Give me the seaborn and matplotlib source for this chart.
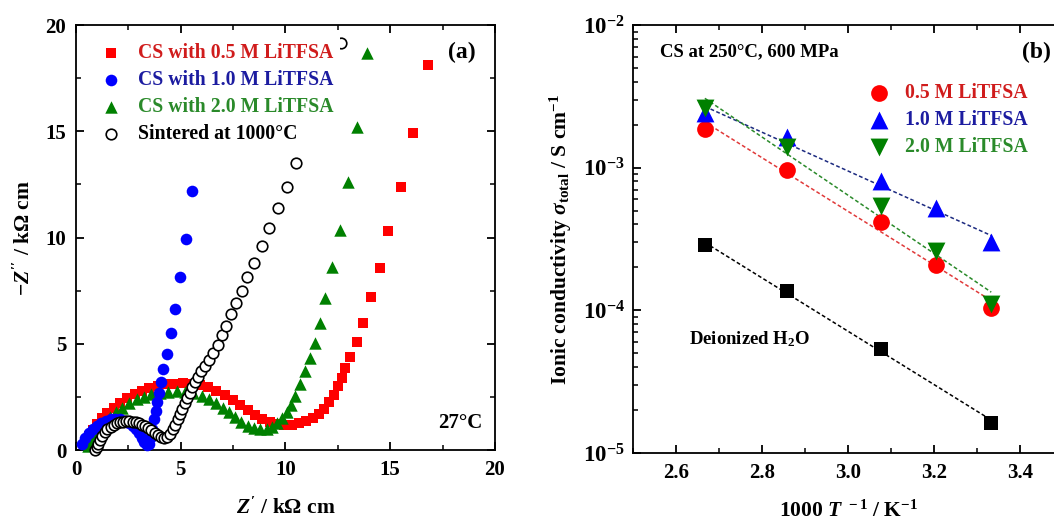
import numpy as np
import pandas as pd
import matplotlib
matplotlib.use("Agg")
import matplotlib.pyplot as plt
from matplotlib.ticker import MultipleLocator, LogLocator, NullFormatter
import seaborn as sns

# ---------------- Panel (a): Nyquist data (kOhm cm) ----------------
red_x = [0.45, 0.6, 0.8, 1.0, 1.25, 1.5, 1.8, 2.1, 2.45, 2.8, 3.15, 3.5, 3.9, 4.3, 4.7, 5.1,
         5.5, 5.9, 6.3, 6.7, 7.1, 7.5, 7.85, 8.2, 8.55, 8.9, 9.25, 9.6, 9.95, 10.3, 10.65,
         11.0, 11.3, 11.6, 11.85, 12.1, 12.3, 12.5, 12.7, 12.85, 13.1, 13.4, 13.7, 14.1,
         14.5, 14.9, 15.5, 16.1, 16.8]
red_y = [0.35, 0.65, 0.95, 1.21, 1.49, 1.74, 2.0, 2.22, 2.44, 2.62, 2.78, 2.9, 3.01, 3.09, 3.13, 3.15,
         3.12, 3.05, 2.95, 2.8, 2.6, 2.35, 2.1, 1.87, 1.65, 1.47, 1.33, 1.24, 1.2, 1.2, 1.25,
         1.35, 1.5, 1.7, 1.95, 2.25, 2.6, 3.0, 3.4, 3.85, 4.4, 5.1, 6.0, 7.2,
         8.55, 10.3, 12.4, 14.9, 18.1]

blue_x = [0.3, 0.45, 0.62, 0.8, 1.0, 1.2, 1.42, 1.65, 1.88, 2.1, 2.32, 2.52, 2.7, 2.87, 3.02,
          3.15, 3.27, 3.38, 3.48, 3.56, 3.63, 3.72, 3.8, 3.87, 3.95, 4.05, 4.17, 4.34, 4.53,
          4.73, 4.96, 5.25, 5.54]
blue_y = [0.3, 0.55, 0.78, 0.98, 1.15, 1.28, 1.38, 1.44, 1.46, 1.44, 1.38, 1.28, 1.15, 0.98, 0.78,
          0.56, 0.36, 0.22, 0.3, 0.6, 1.0, 1.45, 1.85, 2.25, 2.7, 3.2, 3.8, 4.5, 5.5,
          6.64, 8.14, 9.93, 12.2]

green_x = [0.55, 0.7, 0.9, 1.1, 1.35, 1.6, 1.9, 2.2, 2.55, 2.9, 3.25, 3.6, 4.0, 4.4, 4.8,
           5.2, 5.6, 6.0, 6.35, 6.7, 7.0, 7.3, 7.6, 7.9, 8.2, 8.5, 8.8, 9.1, 9.35, 9.6, 9.85,
           10.05, 10.25, 10.45, 10.7, 10.95, 11.17, 11.4, 11.65, 11.9, 12.2, 12.6, 13.0,
           13.4, 13.9]
green_y = [0.2, 0.47, 0.77, 1.03, 1.31, 1.55, 1.8, 2.0, 2.21, 2.38, 2.51, 2.62, 2.7, 2.75, 2.77,
           2.75, 2.68, 2.55, 2.4, 2.2, 2.0, 1.78, 1.55, 1.33, 1.15, 1.02, 0.97, 1.0, 1.1, 1.27, 1.5,
           1.78, 2.1, 2.55, 3.1, 3.7, 4.33, 5.04, 5.98, 7.15, 8.6, 10.35, 12.6,
           15.2, 18.7]

black_x = [0.93, 0.98, 1.05, 1.14, 1.25, 1.37, 1.5, 1.65, 1.8, 1.95, 2.1, 2.25, 2.4, 2.55, 2.7,
           2.85, 3.0, 3.15, 3.3, 3.45, 3.6, 3.75, 3.9, 4.05, 4.2, 4.35, 4.5, 4.63, 4.75, 4.86,
           4.97, 5.08, 5.2, 5.32, 5.43, 5.55, 5.68, 5.82, 5.98, 6.16, 6.35, 6.54, 6.78, 6.97,
           7.16, 7.4, 7.64, 7.92, 8.18, 8.5, 8.88, 9.2, 9.62, 10.07, 10.5, 11.1, 11.8, 12.65]
black_y = [0.02, 0.13, 0.3, 0.48, 0.66, 0.83, 0.98, 1.1, 1.2, 1.26, 1.31, 1.34, 1.35, 1.35, 1.33,
           1.3, 1.26, 1.2, 1.12, 1.03, 0.93, 0.82, 0.7, 0.6, 0.55, 0.6, 0.76, 0.97, 1.2, 1.45,
           1.7, 1.95, 2.2, 2.45, 2.7, 2.95, 3.2, 3.45, 3.7, 3.95, 4.23, 4.56, 4.94, 5.4,
           5.83, 6.4, 6.9, 7.5, 8.14, 8.8, 9.6, 10.45, 11.4, 12.4, 13.5, 15.0, 17.0, 19.15]

labels_a = ["CS with 0.5 M LiTFSA", "CS with 1.0 M LiTFSA",
            "CS with 2.0 M LiTFSA", "Sintered at 1000\u00b0C"]

# ---------------- Panel (b): Arrhenius data ----------------
invT = [2.667, 2.857, 3.077, 3.205, 3.333]
sig_05 = [1.88e-3, 9.7e-4, 4.15e-4, 2.07e-4, 1.03e-4]
sig_10 = [2.4e-3, 1.65e-3, 8.0e-4, 5.2e-4, 3.0e-4]
sig_20 = [2.6e-3, 1.4e-3, 5.4e-4, 2.6e-4, 1.1e-4]
invT_w = [2.667, 2.857, 3.077, 3.333]
sig_w = [2.85e-4, 1.37e-4, 5.4e-5, 1.63e-5]
labels_b = ["0.5 M LiTFSA", "1.0 M LiTFSA", "2.0 M LiTFSA"]

xticks_b = [2.6, 2.8, 3.0, 3.2, 3.4]

# ---------------- Style ----------------
sns.set_theme(style="ticks")
plt.rcParams.update({
    "font.family": ["Liberation Serif", "DejaVu Serif"],
    "font.weight": "bold",
    "axes.labelweight": "bold",
    "mathtext.fontset": "custom",
    "mathtext.rm": "Liberation Serif:bold",
    "mathtext.it": "Liberation Serif:italic:bold",
    "mathtext.bf": "Liberation Serif:bold",
    "mathtext.sf": "Liberation Serif:bold",
    "xtick.direction": "in",
    "ytick.direction": "in",
    "xtick.top": True,
    "ytick.right": True,
    "axes.linewidth": 1.3,
    "axes.edgecolor": "black",
    "xtick.color": "black",
    "ytick.color": "black",
    "text.color": "black",
    "axes.labelcolor": "black",
})

RED, BLUE, GREEN = "#ff0000", "#0000ff", "#008000"
TRED, TBLUE, TGREEN = "#d01c1c", "#1c1ca0", "#2a8a2a"

fig = plt.figure(figsize=(10.54, 5.22), dpi=100)
ax1 = fig.add_axes([0.0721, 0.1379, 0.3975, 0.8142])
ax2 = fig.add_axes([0.6006, 0.1322, 0.408, 0.8199])

# ---- Panel (a)
sns.scatterplot(x=red_x, y=red_y, ax=ax1, marker="s", color=RED, s=62, linewidth=0,
                label=labels_a[0], zorder=2, clip_on=False)
sns.scatterplot(x=green_x, y=green_y, ax=ax1, marker="^", color=GREEN, s=80, linewidth=0,
                label=labels_a[2], zorder=3, clip_on=False)
sns.scatterplot(x=blue_x, y=blue_y, ax=ax1, marker="o", color=BLUE, s=70, linewidth=0,
                label=labels_a[1], zorder=4, clip_on=False)
sns.scatterplot(x=black_x, y=black_y, ax=ax1, marker="o", color="white", edgecolor="black",
                s=58, linewidth=1.2, label=labels_a[3], zorder=5, clip_on=False)

ax1.set_xlim(0, 20)
ax1.set_ylim(0, 20)
ax1.xaxis.set_major_locator(MultipleLocator(5))
ax1.yaxis.set_major_locator(MultipleLocator(5))
ax1.xaxis.set_minor_locator(MultipleLocator(2.5))
ax1.yaxis.set_minor_locator(MultipleLocator(2.5))
ax1.tick_params(which="major", length=6, width=1.3, labelsize=15, pad=7)
ax1.tick_params(which="minor", length=3.5, width=1.1)
ax1.set_xlabel("$Z'$ / k\u03a9 cm", fontsize=15.5, labelpad=13)
ax1.set_ylabel("\u2212$Z''$ / k\u03a9 cm", fontsize=15.5, labelpad=8)

h, l = ax1.get_legend_handles_labels()
order = [l.index(t) for t in labels_a]
leg1 = ax1.legend([h[i] for i in order], [l[i] for i in order], loc="upper left",
                  bbox_to_anchor=(0.04, 0.972), frameon=True, framealpha=1, facecolor="white",
                  edgecolor="none", fancybox=False, borderpad=0.3, borderaxespad=0,
                  handletextpad=0.8, labelspacing=0.36, fontsize=14.2, handlelength=1.2)
leg1.set_zorder(10)
for t, c in zip(leg1.get_texts(), [TRED, TBLUE, TGREEN, "black"]):
    t.set_color(c)
    t.set_fontweight("bold")

ax1.text(0.888, 0.936, "(a)", transform=ax1.transAxes, fontsize=17, fontweight="bold",
         ha="left", va="center")
ax1.text(0.864, 0.064, "27\u00b0C", transform=ax1.transAxes, fontsize=15, fontweight="bold",
         ha="left", va="center")

# ---- Panel (b)
series_b = [(sig_05, "o", RED, TRED, 145, "#e03a3a", labels_b[0]),
            (sig_10, "^", BLUE, TBLUE, 165, "#1c2a80", labels_b[1]),
            (sig_20, "v", GREEN, TGREEN, 165, "#2a8a2a", labels_b[2])]
for sig, mk, col, tcol, sz, lcol, lab in series_b:
    k, b = np.polyfit(invT, np.log10(sig), 1)
    xf = np.array([min(invT), max(invT)])
    ax2.plot(xf, 10 ** (k * xf + b), ls=(0, (2.5, 1.6)), color=lcol, lw=1.1, zorder=2)
kw, bw = np.polyfit(invT_w, np.log10(sig_w), 1)
xfw = np.array([min(invT_w), max(invT_w)])
ax2.plot(xfw, 10 ** (kw * xfw + bw), ls=(0, (2.5, 1.6)), color="black", lw=1.1, zorder=2)

for sig, mk, col, tcol, sz, lcol, lab in series_b:
    sns.scatterplot(x=invT, y=sig, ax=ax2, marker=mk, color=col, s=sz, linewidth=0,
                    label=lab, zorder=3)
sns.scatterplot(x=invT_w, y=sig_w, ax=ax2, marker="s", color="black", s=105, linewidth=0,
                zorder=3)

ax2.set_yscale("log")
ax2.set_xlim(2.5, 3.5)
ax2.set_ylim(1e-5, 1e-2)
ax2.set_xticks(xticks_b)
ax2.set_xticklabels([f"{v:.1f}" for v in xticks_b])
ax2.xaxis.set_minor_locator(MultipleLocator(0.1))
ax2.yaxis.set_major_locator(LogLocator(base=10, numticks=10))
ax2.yaxis.set_minor_locator(LogLocator(base=10, subs=np.arange(2, 10), numticks=50))
ax2.yaxis.set_minor_formatter(NullFormatter())
ax2.tick_params(which="major", length=6, width=1.3, labelsize=15, pad=7)
ax2.tick_params(axis="y", which="major", labelsize=16.5, pad=6)
ax2.tick_params(which="minor", length=3.5, width=1.1)
ax2.set_xlabel("1000 $T^{\\ -1}$ / K$^{-1}$", fontsize=15.5, labelpad=13)
ax2.set_ylabel("Ionic conductivity $\\sigma_{\\rm total}$ / S cm$^{-1}$", fontsize=15.5, labelpad=6)

leg2 = ax2.legend(loc="upper left", bbox_to_anchor=(0.545, 0.865), frameon=False,
                  borderpad=0, borderaxespad=0, handletextpad=0.7, labelspacing=0.36,
                  fontsize=14.2, handlelength=1.2)
for t, c in zip(leg2.get_texts(), [TRED, TBLUE, TGREEN]):
    t.set_color(c)
    t.set_fontweight("bold")

ax2.text(0.063, 0.937, "CS at 250\u00b0C, 600 MPa", transform=ax2.transAxes, fontsize=13.5,
         fontweight="bold", ha="left", va="center")
ax2.text(0.905, 0.937, "(b)", transform=ax2.transAxes, fontsize=17, fontweight="bold",
         ha="left", va="center")
ax2.text(2.77, 6.3e-5, "Deionized H$_2$O", fontsize=13.5, fontweight="bold",
         ha="center", va="center")

fig.savefig("out.png", dpi=100)
